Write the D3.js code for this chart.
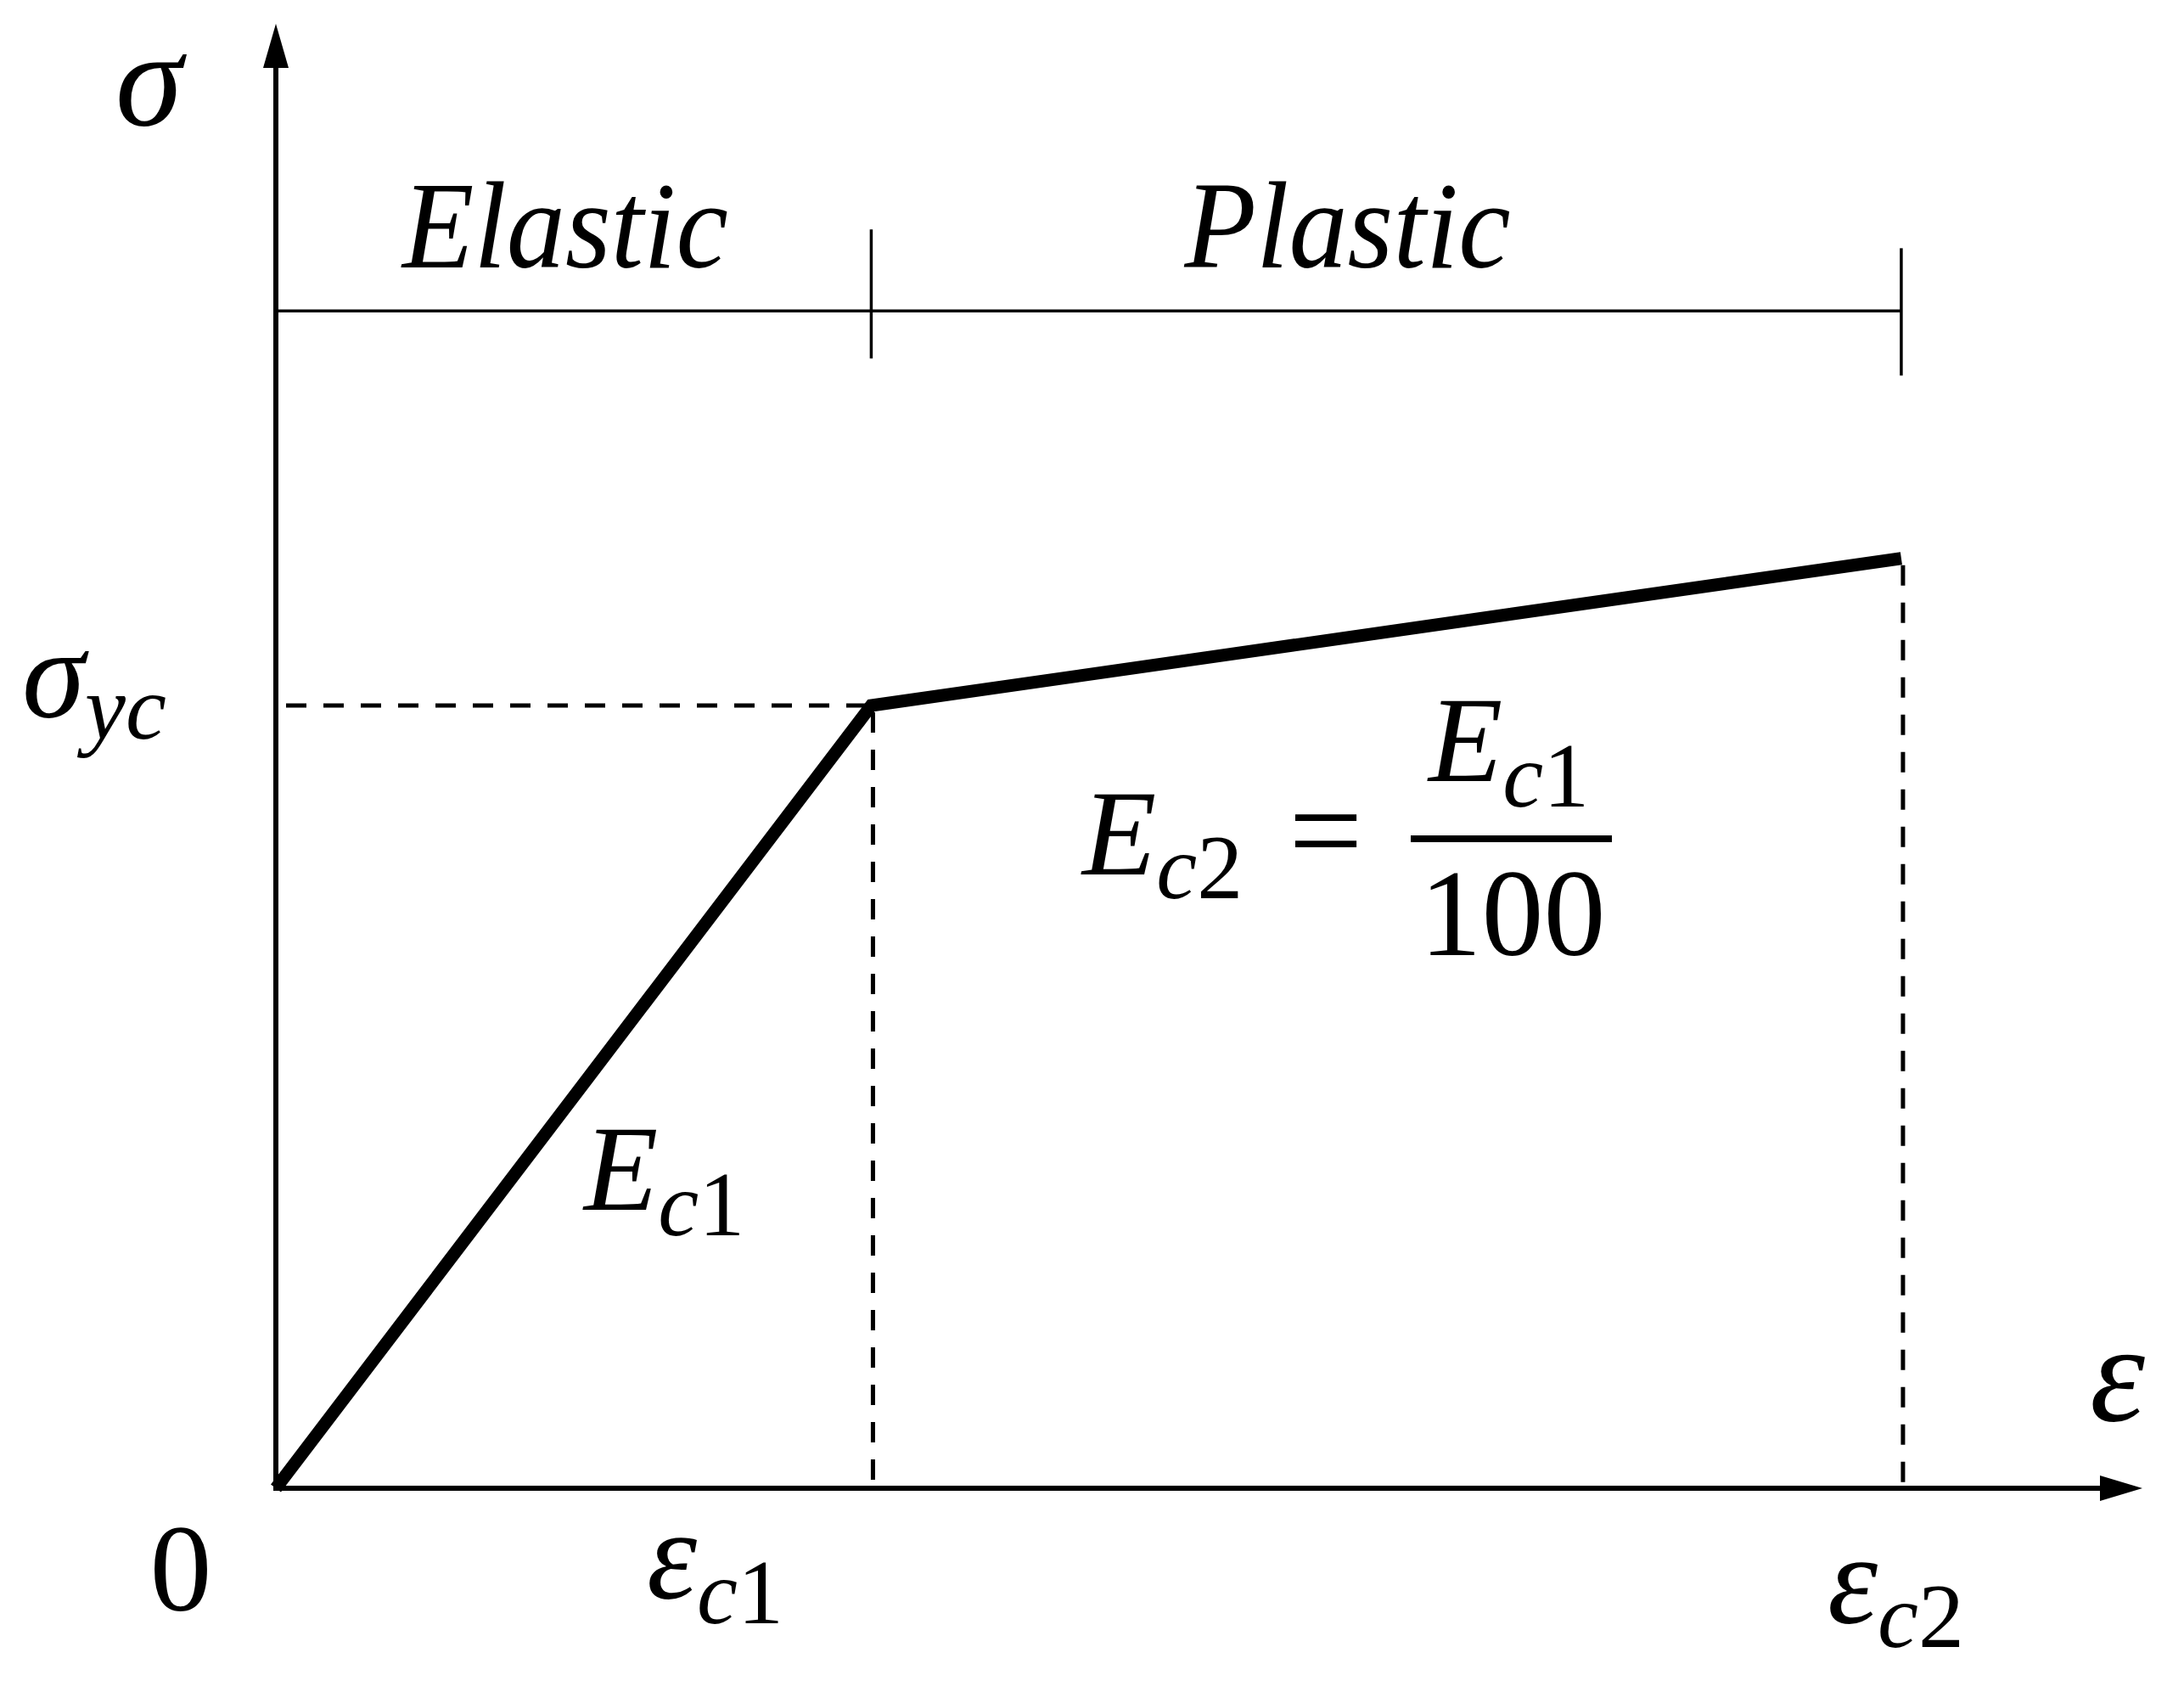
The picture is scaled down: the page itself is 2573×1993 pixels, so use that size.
<!DOCTYPE html>
<html>
<head>
<meta charset="utf-8">
<script src="https://cdn.jsdelivr.net/npm/d3@7.9.0/dist/d3.min.js"></script>
<style>
  html, body { margin: 0; padding: 0; background: #fff; }
  svg { display: block; }
  text { font-family: "Liberation Serif", "DejaVu Serif", serif; fill: #000; }
</style>
</head>
<body>
<svg id="chart"></svg>
<script>
// --- data (schematic units: eps_c1 = 1, sigma_yc = 1) ---
const strainPts = [0, 1, 2.73];          // 0, eps_c1, eps_c2
const stressPts = [0, 1, 1.188];         // 0, sigma_yc, end of plastic branch
const strainMax = 3.135;                 // end of the x axis arrow
const stressMax = 1.871;                 // end of the y axis arrow

const regionNames = ['Elastic', 'Plastic'];
const regionBounds = [0, 1, 2.73];
const regionLabelX = [0.486, 1.8];
const bracketLevel = 1.504;

const W = 2573, H = 1993;
const svg = d3.select('#chart').attr('width', W).attr('height', H);

const x = d3.scaleLinear().domain([0, strainMax]).range([325, 2524]);
const y = d3.scaleLinear().domain([0, stressMax]).range([1753, 28]);

// axes (drawn with d3 axis, no ticks) + arrow heads
const xAxis = svg.append('g').attr('transform', `translate(0,${y(0)})`)
  .call(d3.axisBottom(x).tickValues([]).tickSizeOuter(0));
xAxis.select('.domain').attr('stroke', '#000').attr('stroke-width', 6)
  .attr('d', `M${x(0) - 3},0H${x(strainMax) - 45}`);

const yAxis = svg.append('g').attr('transform', `translate(${x(0)},0)`)
  .call(d3.axisLeft(y).tickValues([]).tickSizeOuter(0));
yAxis.select('.domain').attr('stroke', '#000').attr('stroke-width', 6)
  .attr('d', `M0,${y(0) + 3}V${y(stressMax) + 48}`);

svg.append('path')
  .attr('d', `M${x(strainMax)},${y(0)}L${x(strainMax) - 50},${y(0) - 15}L${x(strainMax) - 50},${y(0) + 15}Z`)
  .attr('fill', '#000');
svg.append('path')
  .attr('d', `M${x(0)},${y(stressMax)}L${x(0) - 15},${y(stressMax) + 52}L${x(0) + 15},${y(stressMax) + 52}Z`)
  .attr('fill', '#000');

// region bracket (Elastic | Plastic)
svg.append('line')
  .attr('x1', x(regionBounds[0])).attr('x2', x(regionBounds[2]))
  .attr('y1', y(bracketLevel)).attr('y2', y(bracketLevel))
  .attr('stroke', '#000').attr('stroke-width', 3.5);
const tickUp = [0, 96, 74], tickDown = [0, 56, 76];
[1, 2].forEach(i => {
  svg.append('line')
    .attr('x1', x(regionBounds[i])).attr('x2', x(regionBounds[i]))
    .attr('y1', y(bracketLevel) - tickUp[i]).attr('y2', y(bracketLevel) + tickDown[i])
    .attr('stroke', '#000').attr('stroke-width', 3.5);
});
regionNames.forEach((name, i) => {
  svg.append('text')
    .attr('x', x(regionLabelX[i])).attr('y', 315)
    .attr('text-anchor', 'middle')
    .attr('font-size', 146).attr('font-style', 'italic')
    .attr('textLength', 384).attr('lengthAdjust', 'spacingAndGlyphs')
    .text(name);
});

// dashed guide lines
const dash = '24 20';
svg.append('line')
  .attr('x1', x(0) + 12).attr('x2', x(strainPts[1]))
  .attr('y1', y(stressPts[1])).attr('y2', y(stressPts[1]))
  .attr('stroke', '#000').attr('stroke-width', 5).attr('stroke-dasharray', dash);
[1, 2].forEach(i => {
  svg.append('line')
    .attr('x1', x(strainPts[i]) + 2).attr('x2', x(strainPts[i]) + 2)
    .attr('y1', y(stressPts[i]) + 8).attr('y2', y(0) - 6)
    .attr('stroke', '#000').attr('stroke-width', 5).attr('stroke-dasharray', dash);
});

// bilinear stress-strain curve
const line = d3.line().x(d => x(d[0])).y(d => y(d[1]));
svg.append('path')
  .attr('d', line(d3.zip(strainPts, stressPts)))
  .attr('fill', 'none').attr('stroke', '#000').attr('stroke-width', 15)
  .attr('stroke-linejoin', 'miter');

// math labels: main symbol + subscript (italic letters, upright digits)
function mathLabel(px, py, main, sub, opts) {
  const t = svg.append('text').attr('x', px).attr('y', py)
    .attr('font-size', opts.size);
  t.append('tspan').attr('font-style', 'italic').text(main);
  if (sub) {
    const letters = sub.replace(/[0-9]/g, '');
    const digits = sub.replace(/[^0-9]/g, '');
    t.append('tspan').attr('dy', opts.subDy).attr('font-size', opts.subSize)
      .attr('font-style', 'italic').text(letters);
    if (digits) {
      t.append('tspan').attr('font-size', opts.subSize).attr('font-style', 'normal').text(digits);
    }
  }
  return t;
}

// axis titles
mathLabel(136, 147, 'σ', null, { size: 160 });
mathLabel(2462, 1673, 'ε', null, { size: 165 });

// tick-like labels
svg.append('text').attr('x', x(0) - 112).attr('y', 1897)
  .attr('text-anchor', 'middle').attr('font-size', 146).text('0');
mathLabel(762, 1883, 'ε', 'c1', { size: 150, subSize: 108, subDy: 29 });
mathLabel(2153, 1912, 'ε', 'c2', { size: 150, subSize: 108, subDy: 28 });
mathLabel(26, 845, 'σ', 'yc', { size: 150, subSize: 108, subDy: 25 });

// modulus labels
mathLabel(688, 1425, 'E', 'c1', { size: 143, subSize: 108, subDy: 30 });
mathLabel(1275, 1030, 'E', 'c2', { size: 143, subSize: 108, subDy: 28 });
svg.append('text').attr('x', 1562).attr('y', 1030)
  .attr('text-anchor', 'middle').attr('font-size', 155).text('=');
svg.append('line')
  .attr('x1', 1662).attr('x2', 1899).attr('y1', 988).attr('y2', 988)
  .attr('stroke', '#000').attr('stroke-width', 8);
mathLabel(1683, 920, 'E', 'c1', { size: 143, subSize: 108, subDy: 30 });
svg.append('text').attr('x', 1782).attr('y', 1125)
  .attr('text-anchor', 'middle').attr('font-size', 146).text('100');
</script>
</body>
</html>
